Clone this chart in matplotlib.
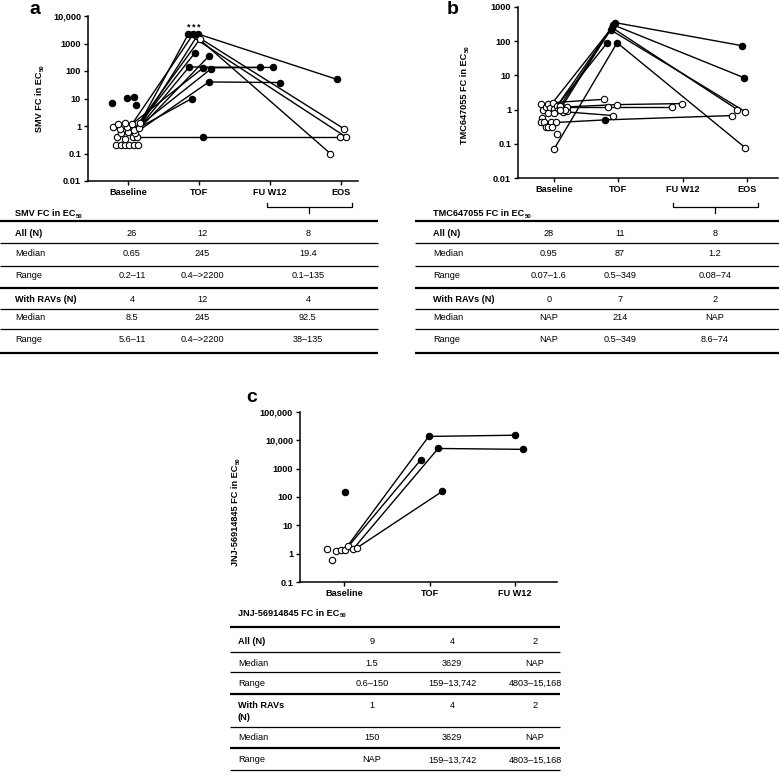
import matplotlib
matplotlib.use("Agg")
import matplotlib.pyplot as plt
from matplotlib.ticker import FixedLocator, FixedFormatter, NullLocator

plt.rcParams["font.family"] = "Liberation Sans"

W, H = 779, 781

# ---------------- panel a : SMV ----------------
a_cats = ["Baseline", "TOF", "FU W12", "EOS"]
a_yticks = [0.01, 0.1, 1, 10, 100, 1000, 10000]
a_ytlabels = ["0.01", "0.1", "1", "10", "100", "1000", "10,000"]
a_base_x = [-0.17, -0.10, -0.04, 0.01, 0.08, 0.14, -0.15, -0.04, 0.07, 0.13,
            -0.10, 0.00, 0.10, -0.21, -0.11, -0.01, 0.08, 0.15, -0.14, -0.04,
            0.06, 0.17, -0.23, -0.01, 0.08, 0.11]
a_base_y = [0.2, 0.2, 0.2, 0.2, 0.2, 0.2, 0.4, 0.35, 0.4, 0.4,
            0.55, 0.6, 0.55, 0.9, 0.8, 0.9, 0.7, 0.85, 1.2, 1.3,
            1.2, 1.3, 6.6, 10.4, 11, 5.6]
a_base_f = [0] * 22 + [1, 1, 1, 1]
a_tof_x = [0.85, 0.92, 0.99, 1.01, 0.94, 1.14, 0.86, 1.06, 1.17, 1.14, 0.90, 1.06]
a_tof_y = [2200, 2200, 2200, 1400, 450, 350, 140, 130, 120, 40, 10, 0.4]
a_tof_f = [1, 1, 1, 0, 1, 1, 1, 1, 1, 1, 1, 1]
a_fu_x = [1.86, 2.04, 2.14, 2.94, 3.04, 3.07, 2.99, 2.85]
a_fu_y = [135, 135, 38, 50, 0.8, 0.4, 0.4, 0.1]
a_fu_f = [1, 1, 1, 1, 0, 0, 0, 0]
a_links = [(21, 0, 5), (20, 1, 4), (17, 2, 3), (16, 3, 7), (21, 4, -1), (12, 5, -1),
           (17, 6, 0), (20, 7, 1), (16, 8, -1), (12, 9, 2), (17, 10, -1), (9, 11, 6)]
a_starred = [0, 1, 2]

# ---------------- panel b : TMC647055 ----------------
b_cats = ["Baseline", "TOF", "FU W12", "EOS"]
b_yticks = [0.01, 0.1, 1, 10, 100, 1000]
b_ytlabels = ["0.01", "0.1", "1", "10", "100", "1000"]
b_base_x = [-0.20, -0.17, -0.12, -0.09, -0.06, -0.02, 0.00, 0.05, 0.06, 0.12,
            0.14, 0.20, 0.20, -0.09, 0.00, -0.19, -0.20, -0.15, -0.05, 0.03,
            -0.12, -0.09, -0.03, 0.05, 0.00, 0.09, 0.17, 0.10]
b_base_y = [1.5, 1.0, 1.2, 1.5, 1.1, 1.6, 1.07, 1.3, 1.0, 1.2,
            0.87, 0.93, 1.2, 0.8, 0.8, 0.58, 0.42, 0.42, 0.42, 0.42,
            0.3, 0.3, 0.32, 0.2, 0.07, 1.25, 1.0, 0.95]
b_base_f = [0] * 28
b_tof_x = [0.95, 0.92, 0.90, 0.88, 0.82, 0.98, 0.78, 0.84, 0.98, 0.92, 0.79]
b_tof_y = [349, 300, 250, 214, 87, 90, 2.0, 1.2, 1.4, 0.67, 0.5]
b_tof_f = [1, 1, 1, 1, 1, 1, 0, 0, 0, 0, 1]
b_fu_x = [2.92, 2.95, 2.85, 2.97, 2.97, 1.84, 1.99, 2.77]
b_fu_y = [74, 8.6, 1.0, 0.87, 0.077, 1.2, 1.5, 0.67]
b_fu_f = [1, 1, 0, 0, 0, 0, 0, 0]
b_links = [(7, 0, 0), (9, 1, 1), (5, 2, 2), (8, 3, 3), (7, 4, -1), (24, 5, 4),
           (5, 6, -1), (9, 7, 5), (12, 8, 6), (10, 9, -1), (19, 10, 7)]

# ---------------- panel c : JNJ-56914845 ----------------
c_cats = ["Baseline", "TOF", "FU W12"]
c_yticks = [0.1, 1, 10, 100, 1000, 10000, 100000]
c_ytlabels = ["0.1", "1", "10", "100", "1000", "10,000", "100,000"]
c_base_x = [-0.20, -0.14, -0.09, -0.04, 0.01, 0.05, 0.11, 0.15, 0.01]
c_base_y = [1.5, 0.6, 1.2, 1.4, 1.4, 1.8, 1.5, 1.6, 150]
c_base_f = [0, 0, 0, 0, 0, 0, 0, 0, 1]
c_tof_x = [0.99, 0.90, 1.10, 1.15]
c_tof_y = [13742, 2100, 5158, 159]
c_tof_f = [1, 1, 1, 1]
c_fu_x = [2.00, 2.09]
c_fu_y = [15168, 4803]
c_fu_f = [1, 1]
c_links = [(4, 0, 0), (5, 1, -1), (6, 2, 1), (7, 3, -1)]

# ---------------- tables ----------------
row_labels = ["All (N)", "Median", "Range", "With RAVs (N)", "Median", "Range"]
row_bold = [True, False, False, True, False, False]
a_tab = [["26", "12", "8"], ["0.65", "245", "19.4"],
         ["0.2\u201311", "0.4\u2013>2200", "0.1\u2013135"], ["4", "12", "4"],
         ["8.5", "245", "92.5"], ["5.6\u201311", "0.4\u2013>2200", "38\u2013135"]]
b_tab = [["28", "11", "8"], ["0.95", "87", "1.2"],
         ["0.07\u20131.6", "0.5\u2013349", "0.08\u201374"], ["0", "7", "2"],
         ["NAP", "214", "NAP"], ["NAP", "0.5\u2013349", "8.6\u201374"]]
c_tab = [["9", "4", "2"], ["1.5", "3629", "NAP"],
         ["0.6\u2013150", "159\u201313,742", "4803\u201315,168"], ["1", "4", "2"],
         ["150", "3629", "NAP"], ["NAP", "159\u201313,742", "4803\u201315,168"]]

FS = 6.6
SUB = 4.3


def px_axes(fig, l, t, r, b):
    return fig.add_axes([l / W, 1 - b / H, (r - l) / W, (b - t) / H])


def ec50_text(ov, x, y, name, rotated=False, **kw):
    # "<name> FC in EC" followed by a small subscript "50"
    if rotated:
        t = ov.text(x, y, name + " FC in EC", rotation=90, ha="center", va="center",
                    fontsize=FS, fontweight="bold", **kw)
        ov.annotate("50", xy=(1, 1), xycoords=t, xytext=(0.2, 0.4),
                    textcoords="offset points", rotation=90, ha="right", va="bottom",
                    fontsize=SUB, fontweight="bold")
    else:
        t = ov.text(x, y, name + " FC in EC", ha="left", va="center",
                    fontsize=FS, fontweight="bold", **kw)
        ov.annotate("50", xy=(1, 0), xycoords=t, xytext=(0.4, -0.2),
                    textcoords="offset points", ha="left", va="bottom",
                    fontsize=SUB, fontweight="bold")


def draw_panel(ax, cats, yticks, ytl, base, tof, fu, links, xlim):
    bx, by, bf = base
    tx, ty, tf = tof
    fx, fy, ff = fu
    for b, t, f in links:
        xs = [bx[b], tx[t]]
        ys = [by[b], ty[t]]
        if f >= 0:
            xs.append(fx[f])
            ys.append(fy[f])
        ax.plot(xs, ys, color="black", lw=1.0, zorder=2, solid_capstyle="round")
    for xs, ys, fs in (base, tof, fu):
        for x, y, f in zip(xs, ys, fs):
            ax.plot(x, y, "o", ms=4.6, mew=0.8, mec="black",
                    mfc="black" if f else "white", zorder=3, clip_on=False)
    ax.set_yscale("log")
    ax.set_ylim(yticks[0], yticks[-1])
    ax.set_xlim(*xlim)
    ax.yaxis.set_major_locator(FixedLocator(yticks))
    ax.yaxis.set_major_formatter(FixedFormatter(ytl))
    ax.yaxis.set_minor_locator(NullLocator())
    ax.set_xticks(range(len(cats)))
    ax.set_xticklabels(cats)
    for s in ("top", "right"):
        ax.spines[s].set_visible(False)
    for s in ("left", "bottom"):
        ax.spines[s].set_linewidth(1.1)
    ax.tick_params(direction="out", length=3, width=1.0, labelsize=FS, pad=2)
    for lbl in ax.get_xticklabels() + ax.get_yticklabels():
        lbl.set_fontweight("bold")


def draw_table(ov, x0, x1, lx, cols, name, title_y, rows_y, vals, lines, split_rav=False):
    ec50_text(ov, lx, title_y, name)
    for yl, lw in lines:
        ov.plot([x0, x1], [yl, yl], color="black", lw=lw, solid_capstyle="butt")
    for i, (lab, bold, y) in enumerate(zip(row_labels, row_bold, rows_y)):
        w = "bold" if bold else "normal"
        if split_rav and lab == "With RAVs (N)":
            ov.text(lx, y, "With RAVs", fontsize=FS, fontweight=w, va="center")
            ov.text(lx, y + 13, "(N)", fontsize=FS, fontweight=w, va="center")
        else:
            ov.text(lx, y, lab, fontsize=FS, fontweight=w, va="center")
        for cx, v in zip(cols, vals[i]):
            ov.text(cx, y, v, fontsize=FS, va="center", ha="center")


def bracket(ov, xl, xr, ytop, ymid, ybot):
    xm = (xl + xr) / 2
    ov.plot([xl, xl, xr, xr], [ytop, ymid, ymid, ytop], color="black", lw=0.9)
    ov.plot([xm, xm], [ymid, ybot], color="black", lw=0.9)


def main():
    fig = plt.figure(figsize=(W / 100, H / 100), dpi=100)

    ax_a = px_axes(fig, 88, 16, 358, 181)
    draw_panel(ax_a, a_cats, a_yticks, a_ytlabels,
               (a_base_x, a_base_y, a_base_f), (a_tof_x, a_tof_y, a_tof_f),
               (a_fu_x, a_fu_y, a_fu_f), a_links, (-0.563, 3.24))
    for i in a_starred:
        ax_a.annotate("*", (a_tof_x[i], a_tof_y[i]), xytext=(0, 1.5),
                      textcoords="offset points", ha="center", va="bottom",
                      fontsize=6.5, fontweight="bold")

    ax_b = px_axes(fig, 518, 7, 778, 178)
    draw_panel(ax_b, b_cats, b_yticks, b_ytlabels,
               (b_base_x, b_base_y, b_base_f), (b_tof_x, b_tof_y, b_tof_f),
               (b_fu_x, b_fu_y, b_fu_f), b_links, (-0.56, 3.48))

    ax_c = px_axes(fig, 300, 412, 557, 582)
    draw_panel(ax_c, c_cats, c_yticks, c_ytlabels,
               (c_base_x, c_base_y, c_base_f), (c_tof_x, c_tof_y, c_tof_f),
               (c_fu_x, c_fu_y, c_fu_f), c_links, (-0.515, 2.49))

    ov = fig.add_axes([0, 0, 1, 1], zorder=-1)
    ov.set_xlim(0, W)
    ov.set_ylim(H, 0)
    ov.axis("off")

    # axis titles
    ec50_text(ov, 40, 102, "SMV", rotated=True)
    ec50_text(ov, 465, 98, "TMC647055", rotated=True)
    ec50_text(ov, 236, 515, "JNJ-56914845", rotated=True)

    ov.text(35, 10, "a", fontsize=14, fontweight="bold", ha="center", va="center")
    ov.text(453, 10, "b", fontsize=14, fontweight="bold", ha="center", va="center")
    ov.text(252, 398, "c", fontsize=14, fontweight="bold", ha="center", va="center")

    thick, thin = 1.6, 0.9
    ab_lines = [(221, thick), (243, thin), (266, thin), (288, thick),
                (309, thin), (329, thin), (353, thick)]
    ab_rows = [233, 254, 276, 299, 318, 339]
    draw_table(ov, 0, 378, 15, [132, 202, 308], "SMV",
               214, ab_rows, a_tab, ab_lines)
    draw_table(ov, 415, 779, 433, [549, 620, 715], "TMC647055",
               214, ab_rows, b_tab, ab_lines)
    bracket(ov, 267, 352, 203, 207, 213)
    bracket(ov, 673, 758, 203, 207, 213)

    c_lines = [(627, thick), (652, thin), (672, thin), (694, thick),
               (727, thin), (748, thick), (770, thin)]
    c_rows = [642, 663, 683, 705, 738, 760]
    draw_table(ov, 230, 560, 238, [372, 452, 535], "JNJ-56914845",
               613, c_rows, c_tab, c_lines, split_rav=True)

    fig.savefig("out.png", dpi=100)


if __name__ == "__main__":
    main()
